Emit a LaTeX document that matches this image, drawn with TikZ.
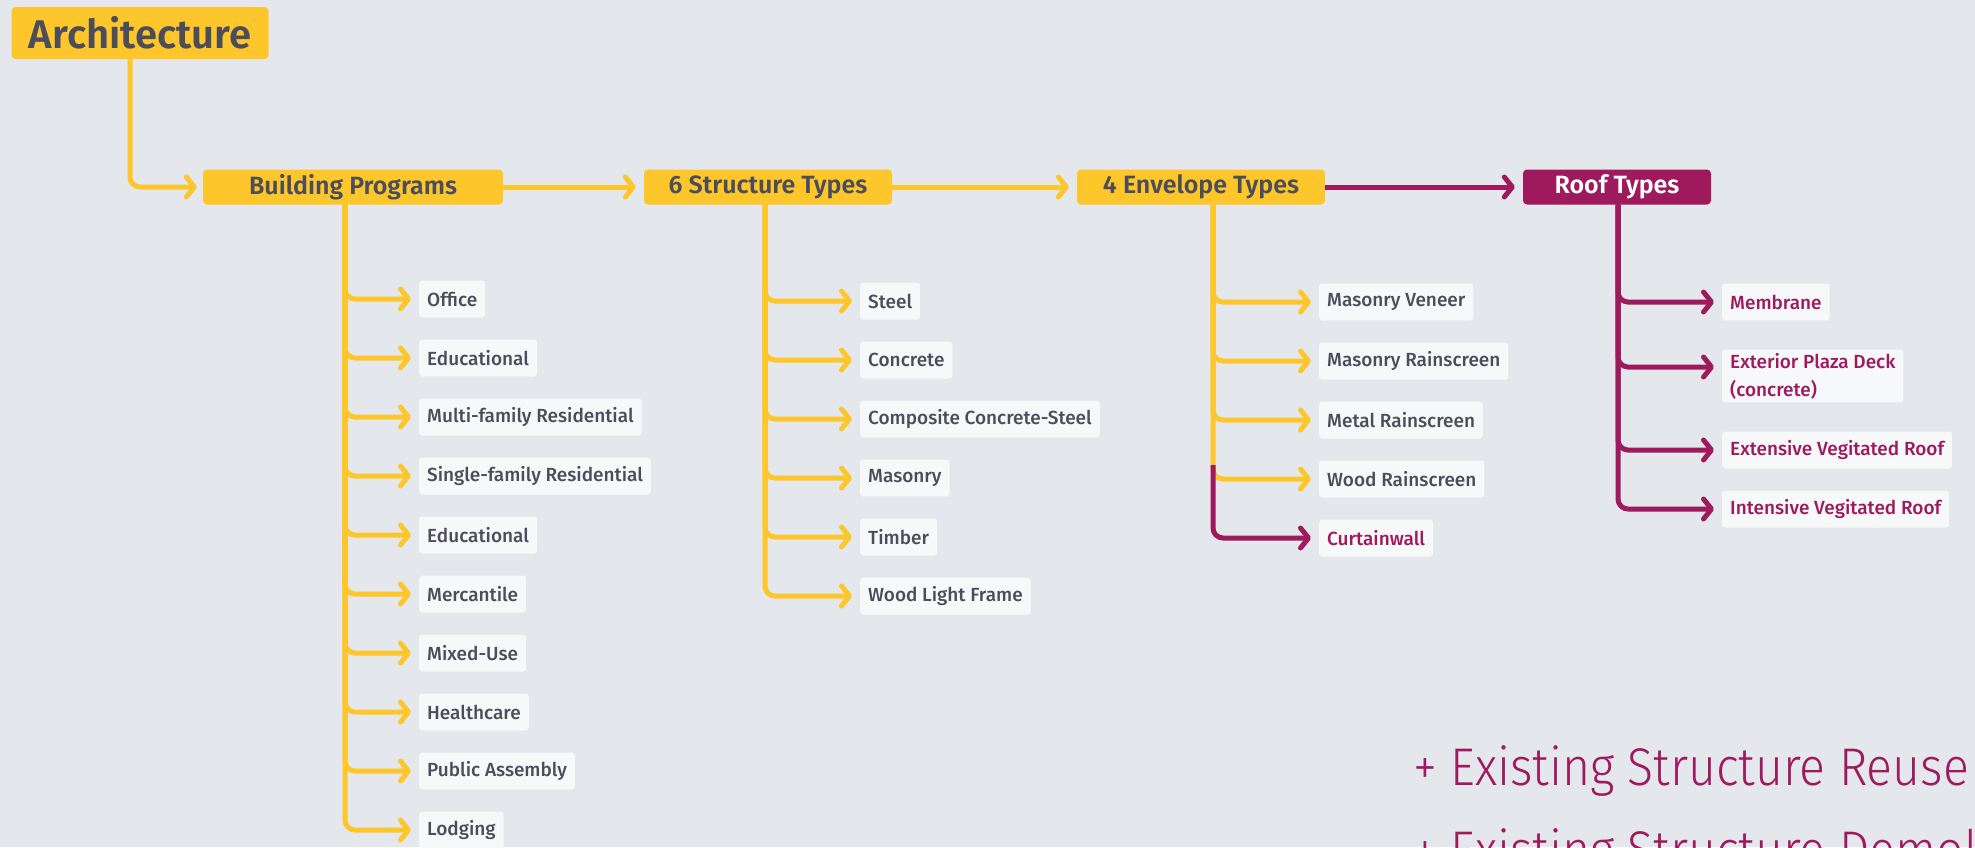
\documentclass[tikz,border=0pt]{standalone}
\usepackage{fontspec}
\setmainfont{Fira Sans}
\newfontfamily\medfont{Fira Sans Medium}
\newfontfamily\semifont{Fira Sans SemiBold}
\newfontfamily\thinfont{Fira Sans Light}[FakeStretch=0.91]
\usetikzlibrary{arrows.meta, positioning}
\definecolor{cYellow}{RGB}{253,199,44}
\definecolor{cPlum}{RGB}{158,26,92}
\definecolor{cInk}{RGB}{76,77,90}
\definecolor{cBg}{RGB}{228,231,235}
\definecolor{cCard}{RGB}{247,248,250}
\tikzset{
	head/.style     ={rectangle, rounded corners=4pt, fill=cYellow, text=cInk, font=\semifont\fontsize{25}{28}\selectfont, minimum height=35pt, inner xsep=0pt},
	roofhead/.style ={head, fill=cPlum, text=white},
	leaf/.style     ={rectangle, rounded corners=3pt, fill=cCard, anchor=west, text=cInk, font=\medfont\fontsize{19}{28}\selectfont, minimum height=37pt, inner xsep=8pt, align=left},
	leafp/.style    ={leaf, text=cPlum},
	note/.style     ={anchor=base west, inner sep=0pt, text=cPlum, font=\thinfont\fontsize{53}{60}\selectfont},
	% connectors
	ybr/.style      ={draw=cYellow, line width=5pt, rounded corners=10pt, -{Straight Barb[length=8pt, width=20pt, round]}, shorten >=8pt},
	pbr/.style      ={ybr, draw=cPlum},
}
\begin{document}
\begin{tikzpicture}[x=1pt, y=-1pt]
	\path[use as bounding box] (0,0) rectangle (1975,847);
	\clip (0,0) rectangle (1975,847);
	\fill[cBg] (0,0) rectangle (1975,847);
	% heads
	\node[head, minimum width=257pt, minimum height=52pt, font=\semifont\fontsize{40}{44}\selectfont] (arch) at (140,33) {Architecture};
	\node[head, minimum width=300pt] (bp) at (353,187) {Building Programs};
	\node[head, minimum width=248pt] (st) at (768,187) {6 Structure Types};
	\node[head, minimum width=248pt] (ev) at (1201,187) {4 Envelope Types};
	\node[roofhead, minimum width=188pt] (rf) at (1617,187) {Roof Types};
	% trunks
	\coordinate (tarch) at (130,0);
	\coordinate (tbp) at (345,0);
	\coordinate (tst) at (765,0);
	\coordinate (tev) at (1213,0);
	\coordinate (trf) at (1618,0);
	\draw[ybr, shorten >=6pt] (arch.south -| tarch) |- (bp.west);
	\draw[ybr] (bp.east) -- (st.west);
	\draw[ybr] (st.east) -- (ev.west);
	\draw[pbr] (ev.east) -- (rf.west);
	% building programs
	\foreach \t [count=\i] in {Office, Educational, Multi-family Residential, Single-family Residential, Educational, Mercantile, Mixed-Use, Healthcare, Public Assembly, Lodging}{
		\node[leaf] (bp\i) at (419,240+59*\i) {\t};
		\draw[ybr] (bp.south -| tbp) |- (bp\i.west);
	}
	% structure types
	\foreach \t [count=\i] in {Steel, Concrete, Composite Concrete-Steel, Masonry, Timber, Wood Light Frame}{
		\node[leaf] (st\i) at (860,242+59*\i) {\t};
		\draw[ybr] (st.south -| tst) |- (st\i.west);
	}
	% envelope types
	\foreach \t [count=\i] in {Masonry Veneer, Masonry Rainscreen, Metal Rainscreen, Wood Rainscreen}{
		\node[leaf] (ev\i) at (1319,243+59*\i) {\t};
		\draw[ybr] (ev.south -| tev) |- (ev\i.west);
	}
	\node[leafp] (ev5) at (1319,538) {Curtainwall};
	\draw[pbr] ([yshift=14pt]ev4.west -| tev) |- (ev5.west);
	% roof types
	\node[leafp] (rf1) at (1722,302) {Membrane};
	\node[leafp] (rf2) at (1722,376) {Exterior Plaza Deck\\(concrete)};
	\node[leafp] (rf3) at (1722,450) {Extensive Vegitated Roof};
	\node[leafp] (rf4) at (1722,509) {Intensive Vegitated Roof};
	\draw[pbr] (rf.south -| trf) |- (rf1.west);
	\draw[pbr] (rf.south -| trf) |- ([yshift=9pt]rf2.west);
	\draw[pbr] (rf.south -| trf) |- (rf3.west);
	\draw[pbr] (rf.south -| trf) |- (rf4.west);
	% notes
	\node[note] (reuse) at (1413,785) {+ Existing Structure Reuse};
	\node[note] (demol) at (1413,868) {+ Existing Structure Demolition};
\end{tikzpicture}
\end{document}
